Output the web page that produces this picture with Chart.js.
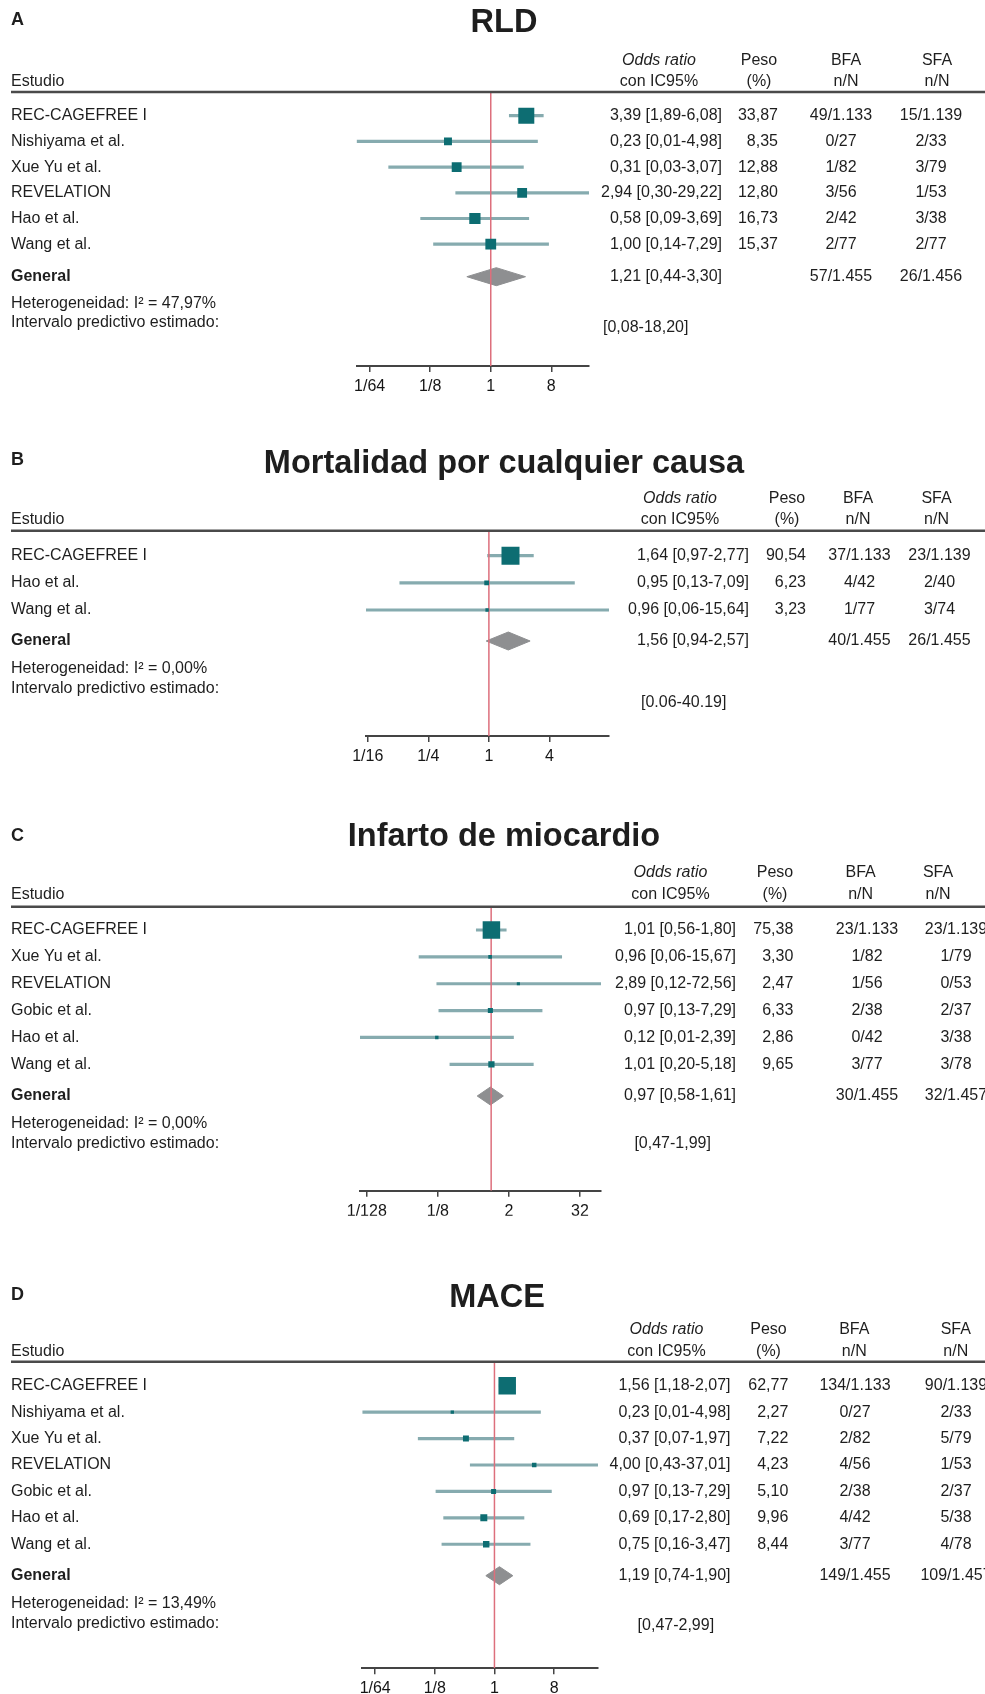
<!DOCTYPE html>
<html>
<head>
<meta charset="utf-8">
<script src="https://cdn.jsdelivr.net/npm/chart.js@4.4.1/dist/chart.umd.min.js"></script>
<style>
  html, body { margin: 0; padding: 0; background: #ffffff; }
  body { width: 985px; height: 1694px; position: relative; overflow: hidden; }
  canvas { position: absolute; left: 0; }
</style>
</head>
<body>
<canvas id="panelA"></canvas>
<canvas id="panelB"></canvas>
<canvas id="panelC"></canvas>
<canvas id="panelD"></canvas>
<script>
// ---------- Panel A: RLD ----------
const studiesA = ['REC-CAGEFREE I', 'Nishiyama et al.', 'Xue Yu et al.', 'REVELATION', 'Hao et al.', 'Wang et al.'];
const orA = [3.39, 0.23, 0.31, 2.94, 0.58, 1.00];
const loA = [1.89, 0.01, 0.03, 0.30, 0.09, 0.14];
const hiA = [6.08, 4.98, 3.07, 29.22, 3.69, 7.29];
const weightA = [33.87, 8.35, 12.88, 12.80, 16.73, 15.37];
const bfaA = ['49/1.133', '0/27', '1/82', '3/56', '2/42', '2/77'];
const sfaA = ['15/1.139', '2/33', '3/79', '1/53', '3/38', '2/77'];
const overallA = [1.21, 0.44, 3.30];
const totalsA = ['57/1.455', '26/1.456'];
const i2A = '47,97%';
const piA = '[0,08-18,20]';
const ticksA = [1/64, 1/8, 1, 8];
const tickLabelsA = ['1/64', '1/8', '1', '8'];

// ---------- Panel B: Mortalidad por cualquier causa ----------
const studiesB = ['REC-CAGEFREE I', 'Hao et al.', 'Wang et al.'];
const orB = [1.64, 0.95, 0.96];
const loB = [0.97, 0.13, 0.06];
const hiB = [2.77, 7.09, 15.64];
const weightB = [90.54, 6.23, 3.23];
const bfaB = ['37/1.133', '4/42', '1/77'];
const sfaB = ['23/1.139', '2/40', '3/74'];
const overallB = [1.56, 0.94, 2.57];
const totalsB = ['40/1.455', '26/1.455'];
const i2B = '0,00%';
const piB = '[0.06-40.19]';
const ticksB = [1/16, 1/4, 1, 4];
const tickLabelsB = ['1/16', '1/4', '1', '4'];

// ---------- Panel C: Infarto de miocardio ----------
const studiesC = ['REC-CAGEFREE I', 'Xue Yu et al.', 'REVELATION', 'Gobic et al.', 'Hao et al.', 'Wang et al.'];
const orC = [1.01, 0.96, 2.89, 0.97, 0.12, 1.01];
const loC = [0.56, 0.06, 0.12, 0.13, 0.006, 0.20];
const hiC = [1.80, 15.67, 72.56, 7.29, 2.39, 5.18];
const weightC = [75.38, 3.30, 2.47, 6.33, 2.86, 9.65];
const bfaC = ['23/1.133', '1/82', '1/56', '2/38', '0/42', '3/77'];
const sfaC = ['23/1.139', '1/79', '0/53', '2/37', '3/38', '3/78'];
const overallC = [0.97, 0.58, 1.61];
const totalsC = ['30/1.455', '32/1.457'];
const i2C = '0,00%';
const piC = '[0,47-1,99]';
const ticksC = [1/128, 1/8, 2, 32];
const tickLabelsC = ['1/128', '1/8', '2', '32'];

// ---------- Panel D: MACE ----------
const studiesD = ['REC-CAGEFREE I', 'Nishiyama et al.', 'Xue Yu et al.', 'REVELATION', 'Gobic et al.', 'Hao et al.', 'Wang et al.'];
const orD = [1.56, 0.23, 0.37, 4.00, 0.97, 0.69, 0.75];
const loD = [1.18, 0.01, 0.07, 0.43, 0.13, 0.17, 0.16];
const hiD = [2.07, 4.98, 1.97, 37.01, 7.29, 2.80, 3.47];
const weightD = [62.77, 2.27, 7.22, 4.23, 5.10, 9.96, 8.44];
const bfaD = ['134/1.133', '0/27', '2/82', '4/56', '2/38', '4/42', '3/77'];
const sfaD = ['90/1.139', '2/33', '5/79', '1/53', '2/37', '5/38', '4/78'];
const overallD = [1.19, 0.74, 1.90];
const totalsD = ['149/1.455', '109/1.457'];
const i2D = '13,49%';
const piD = '[0,47-2,99]';
const ticksD = [1/64, 1/8, 1, 8];
const tickLabelsD = ['1/64', '1/8', '1', '8'];

// ---------- styling ----------
const FONT = '"Liberation Sans", Arial, Helvetica, sans-serif';
const SQUARE = '#0d6d72';
const CI = '#86abaf';
const DIAMOND = '#8e8f91';
const REDLINE = '#dd6f7c';
const TEXT = '#1e1e1e';
const RULE = '#4a4a4a';

Chart.defaults.font.family = FONT;

function fmt(v) { return v.toFixed(2).replace('.', ','); }

function drawTexts(chart, P, L) {
  const ctx = chart.ctx;
  const ys = chart.scales.y;
  const ca = chart.chartArea;
  const rel = v => v - L.canvasTop;
  ctx.save();
  // header rule
  ctx.strokeStyle = RULE;
  ctx.lineWidth = 2.5;
  ctx.beginPath();
  ctx.moveTo(11, ca.top);
  ctx.lineTo(985, ca.top);
  ctx.stroke();

  ctx.fillStyle = TEXT;
  ctx.textBaseline = 'middle';
  // panel letter
  ctx.font = 'bold 18px ' + FONT;
  ctx.textAlign = 'left';
  ctx.fillText(P.letter, 11, rel(L.letterY));
  // title
  ctx.font = 'bold 32.5px ' + FONT;
  ctx.textAlign = 'center';
  ctx.fillText(P.title, L.titleX, rel(L.titleY));

  // headers
  ctx.font = '16px ' + FONT;
  ctx.textAlign = 'left';
  ctx.fillText('Estudio', 11, rel(L.ciHeadY));
  ctx.textAlign = 'center';
  ctx.font = 'italic 16px ' + FONT;
  ctx.fillText('Odds ratio', L.orHeadX, rel(L.orHeadY));
  ctx.font = '16px ' + FONT;
  ctx.fillText('con IC95%', L.orHeadX, rel(L.ciHeadY));
  ctx.fillText('Peso', L.pesoHeadX, rel(L.orHeadY));
  ctx.fillText('(%)', L.pesoHeadX, rel(L.ciHeadY));
  ctx.fillText('BFA', L.bfaHeadX, rel(L.orHeadY));
  ctx.fillText('n/N', L.bfaHeadX, rel(L.ciHeadY));
  ctx.fillText('SFA', L.sfaHeadX, rel(L.orHeadY));
  ctx.fillText('n/N', L.sfaHeadX, rel(L.ciHeadY));

  // study rows
  P.studies.forEach((s, i) => {
    const y = ys.getPixelForValue(i);
    ctx.textAlign = 'left';
    ctx.fillText(s, 11, y);
    ctx.textAlign = 'right';
    ctx.fillText(fmt(P.or[i]) + ' [' + fmt(P.lo[i]) + '-' + fmt(P.hi[i]) + ']', L.orRight, y);
    ctx.fillText(fmt(P.weight[i]), L.pesoRight, y);
    ctx.textAlign = 'center';
    ctx.fillText(P.bfa[i], L.bfaX, y);
    ctx.fillText(P.sfa[i], L.sfaX, y);
  });

  // overall row
  const gy = ys.getPixelForValue(P.gIdx);
  ctx.font = 'bold 16px ' + FONT;
  ctx.textAlign = 'left';
  ctx.fillText('General', 11, gy);
  ctx.font = '16px ' + FONT;
  ctx.textAlign = 'right';
  ctx.fillText(fmt(P.overall[0]) + ' [' + fmt(P.overall[1]) + '-' + fmt(P.overall[2]) + ']', L.orRight, gy);
  ctx.textAlign = 'center';
  ctx.fillText(P.totals[0], L.bfaX, gy);
  ctx.fillText(P.totals[1], L.sfaX, gy);

  // footer
  ctx.textAlign = 'left';
  ctx.fillText('Heterogeneidad: I\u00B2 = ' + P.i2, 11, rel(L.hetY));
  ctx.fillText('Intervalo predictivo estimado:', 11, rel(L.intY));
  ctx.fillText(P.pi, L.piX, rel(L.piY));
  ctx.restore();
}

function makePanel(id, P, L) {
  const canvas = document.getElementById(id);
  canvas.width = 985;
  canvas.height = L.canvasH;
  canvas.style.top = L.canvasTop + 'px';
  canvas.style.width = '985px';
  canvas.style.height = L.canvasH + 'px';

  const step = L.rowStep;
  const yMin = (L.chartTop - L.rowFirst) / step;
  const yMax = (L.chartBottom - L.rowFirst) / step;
  P.gIdx = (L.genY - L.rowFirst) / step;
  const dh = 9 / step;
  const wMax = Math.max(...P.weight);
  const xMin = Math.min(...P.lo);
  const xMax = Math.max(...P.hi);
  const AXIS_H = 25;

  new Chart(canvas, {
    type: 'scatter',
    data: {
      datasets: [
        {
          type: 'scatter',
          data: P.or.map((v, i) => ({ x: v, y: i })),
          pointStyle: 'rect',
          pointRadius: P.weight.map(w => L.boxMax * Math.sqrt(w / wMax) / Math.SQRT2),
          pointBackgroundColor: SQUARE,
          backgroundColor: SQUARE,
          borderWidth: 0,
          pointBorderWidth: 0,
          order: 0
        },
        {
          type: 'line',
          data: [{ x: 1, y: yMin }, { x: 1, y: yMax }],
          borderColor: REDLINE,
          borderWidth: 1.5,
          pointRadius: 0,
          fill: false,
          order: 1
        },
        {
          type: 'line',
          data: [{ x: P.overall[1], y: P.gIdx }, { x: P.overall[0], y: P.gIdx - dh }, { x: P.overall[2], y: P.gIdx }],
          borderColor: DIAMOND,
          borderWidth: 1,
          backgroundColor: DIAMOND,
          pointRadius: 0,
          fill: '+1',
          order: 2
        },
        {
          type: 'line',
          data: [{ x: P.overall[1], y: P.gIdx }, { x: P.overall[0], y: P.gIdx + dh }, { x: P.overall[2], y: P.gIdx }],
          borderColor: DIAMOND,
          borderWidth: 1,
          backgroundColor: DIAMOND,
          pointRadius: 0,
          fill: false,
          order: 2
        },
        {
          type: 'bar',
          indexAxis: 'y',
          data: P.lo.map((v, i) => ({ x: [v, P.hi[i]], y: i })),
          barThickness: 2.5,
          backgroundColor: CI,
          borderWidth: 0,
          order: 3
        }
      ]
    },
    options: {
      responsive: false,
      animation: false,
      events: [],
      devicePixelRatio: 1,
      layout: {
        padding: {
          left: L.axisLeft,
          right: 985 - L.axisRight,
          top: L.chartTop - L.canvasTop,
          bottom: L.canvasTop + L.canvasH - L.chartBottom - AXIS_H
        }
      },
      plugins: { legend: { display: false }, tooltip: { enabled: false } },
      scales: {
        x: {
          type: 'logarithmic',
          min: xMin,
          max: xMax,
          bounds: 'data',
          offset: false,
          afterBuildTicks: s => { s.ticks = P.ticks.map(v => ({ value: v })); },
          afterFit: s => { s.height = AXIS_H; },
          ticks: {
            autoSkip: false,
            maxRotation: 0,
            minRotation: 0,
            padding: 5,
            color: '#161616',
            font: { size: 16, family: FONT },
            callback: (v, i) => P.tickLabels[i]
          },
          grid: {
            display: true,
            drawOnChartArea: false,
            drawTicks: true,
            tickLength: 6,
            color: '#444',
            lineWidth: 1.5,
            offset: false
          },
          border: { display: true, color: '#444', width: 2 }
        },
        y: {
          type: 'linear',
          display: false,
          reverse: true,
          min: yMin,
          max: yMax,
          bounds: 'data',
          offset: false,
          beginAtZero: false
        }
      }
    },
    plugins: [{ id: 'forestText' + id, afterDraw: chart => drawTexts(chart, P, L) }]
  });
}

makePanel('panelA', {
  letter: 'A', title: 'RLD', studies: studiesA, or: orA, lo: loA, hi: hiA, weight: weightA,
  bfa: bfaA, sfa: sfaA, overall: overallA, totals: totalsA, i2: i2A, pi: piA,
  ticks: ticksA, tickLabels: tickLabelsA
}, {
  canvasTop: 0, canvasH: 410, chartTop: 92, chartBottom: 366, rowFirst: 115.7, rowStep: 25.7,
  genY: 276.7, hetY: 304, intY: 323, piY: 327.7, piX: 603,
  titleX: 504, titleY: 23, letterY: 20, orHeadY: 61, ciHeadY: 82,
  axisLeft: 356.7, axisRight: 589,
  orHeadX: 659, orRight: 722, pesoHeadX: 759, pesoRight: 778,
  bfaHeadX: 846, bfaX: 841, sfaHeadX: 937, sfaX: 931, boxMax: 16
});

makePanel('panelB', {
  letter: 'B', title: 'Mortalidad por cualquier causa', studies: studiesB, or: orB, lo: loB, hi: hiB, weight: weightB,
  bfa: bfaB, sfa: sfaB, overall: overallB, totals: totalsB, i2: i2B, pi: piB,
  ticks: ticksB, tickLabels: tickLabelsB
}, {
  canvasTop: 410, canvasH: 380, chartTop: 530.7, chartBottom: 736, rowFirst: 555.7, rowStep: 27.15,
  genY: 641, hetY: 669, intY: 689, piY: 702.7, piX: 641,
  titleX: 504, titleY: 464, letterY: 460, orHeadY: 499, ciHeadY: 520,
  axisLeft: 366, axisRight: 609,
  orHeadX: 680, orRight: 749, pesoHeadX: 787, pesoRight: 806,
  bfaHeadX: 858, bfaX: 859.5, sfaHeadX: 936.5, sfaX: 939.5, boxMax: 18
});

makePanel('panelC', {
  letter: 'C', title: 'Infarto de miocardio', studies: studiesC, or: orC, lo: loC, hi: hiC, weight: weightC,
  bfa: bfaC, sfa: sfaC, overall: overallC, totals: totalsC, i2: i2C, pi: piC,
  ticks: ticksC, tickLabels: tickLabelsC
}, {
  canvasTop: 790, canvasH: 450, chartTop: 906.7, chartBottom: 1190.7, rowFirst: 930, rowStep: 26.86,
  genY: 1096, hetY: 1123.3, intY: 1143.3, piY: 1144, piX: 634.4,
  titleX: 504, titleY: 837, letterY: 836, orHeadY: 873, ciHeadY: 895,
  axisLeft: 360, axisRight: 601,
  orHeadX: 670.5, orRight: 736, pesoHeadX: 775, pesoRight: 793.3,
  bfaHeadX: 860.6, bfaX: 867, sfaHeadX: 938, sfaX: 956, boxMax: 17.5
});

makePanel('panelD', {
  letter: 'D', title: 'MACE', studies: studiesD, or: orD, lo: loD, hi: hiD, weight: weightD,
  bfa: bfaD, sfa: sfaD, overall: overallD, totals: totalsD, i2: i2D, pi: piD,
  ticks: ticksD, tickLabels: tickLabelsD
}, {
  canvasTop: 1240, canvasH: 454, chartTop: 1361.7, chartBottom: 1668.3, rowFirst: 1385.7, rowStep: 26.43,
  genY: 1575.7, hetY: 1603.3, intY: 1624, piY: 1625.7, piX: 637.6,
  titleX: 497, titleY: 1298.5, letterY: 1295, orHeadY: 1330, ciHeadY: 1351.7,
  axisLeft: 362.4, axisRight: 598,
  orHeadX: 666.5, orRight: 730.5, pesoHeadX: 768.5, pesoRight: 788.3,
  bfaHeadX: 854.3, bfaX: 855, sfaHeadX: 955.8, sfaX: 956, boxMax: 17.5
});
</script>
</body>
</html>
